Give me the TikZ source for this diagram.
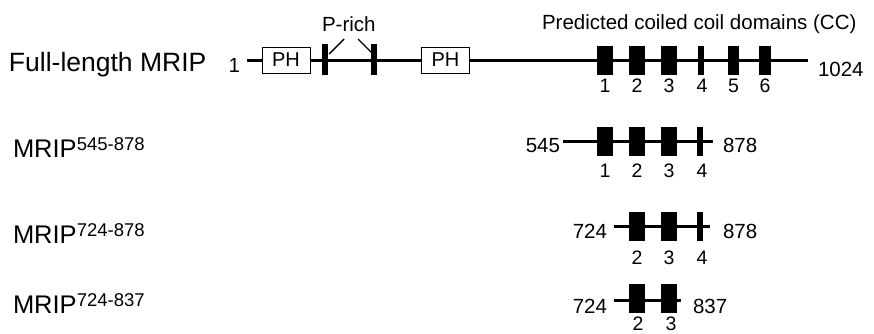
\documentclass[tikz,border=0pt]{standalone}
\usepackage{fontspec}
\setmainfont{Liberation Sans}
\newcommand{\mripsup}[1]{{\fontsize{25.5}{25.5}\selectfont MRIP}\raisebox{6.5pt}{\fontsize{18.5}{18.5}\selectfont #1}}
\begin{document}
\begin{tikzpicture}[x=1pt,y=-1pt,
  every node/.style={inner sep=0pt, outer sep=0pt},
  backbone/.style={line width=3pt},
  ccblock/.style={fill=black, minimum height=29pt},
  ccwide/.style={ccblock, minimum width=16.5pt},
  ccthin/.style={ccblock, minimum width=6pt},
  ccmid/.style={ccblock, minimum width=11.5pt},
  phbox/.style={draw=black, line width=0.8pt, fill=white, minimum width=48pt,
    minimum height=26pt, font=\fontsize{20}{20}\selectfont},
  small/.style={font=\fontsize{20.5}{20.5}\selectfont},
  ccnum/.style={font=\fontsize{19.5}{19.5}\selectfont, anchor=base},
  rowlabel/.style={anchor=base west},
  pointer/.style={line width=1.4pt},
]
\useasboundingbox (0,0) rectangle (874,333);

% ---- full-length protein ----
\node[rowlabel, font=\fontsize{26.5}{26.5}\selectfont] (full) at (9,71) {Full-length MRIP};
\node[small, anchor=base east] (f-start) at (240,72) {1};
\node[small, anchor=base west] (f-end) at (818,76) {1024};
\coordinate (f-a) at (247,60);
\coordinate (f-b) at (808,60);
\draw[backbone] (f-a) -- (f-b);
\node[phbox] (ph1) at (286,60) {PH};
\node[phbox] (ph2) at (445.5,60) {PH};
\node[ccthin, minimum height=31pt] (pr1) at (325,59) {};
\node[ccthin, minimum height=31pt] (pr2) at (373.5,59) {};
\node[small, anchor=base west] (prich) at (322,31) {P-rich};
\coordinate (pl-a) at (344,39);
\coordinate (pl-b) at (329,54);
\coordinate (pr-a) at (358,39);
\coordinate (pr-b) at (372,53);
\draw[pointer] (pl-a) -- (pl-b);
\draw[pointer] (pr-a) -- (pr-b);
\node[small, anchor=base west] (cctitle) at (542,29) {Predicted coiled coil domains (CC)};
\node[ccwide] (f1) at (605,60) {};
\node[ccwide] (f2) at (637,60) {};
\node[ccwide] (f3) at (669,60) {};
\node[ccthin] (f4) at (701,60) {};
\node[ccmid]  (f5) at (733.5,60) {};
\node[ccmid]  (f6) at (765,60) {};
\node[ccnum] (fn1) at (605,92) {1};
\node[ccnum] (fn2) at (637,92) {2};
\node[ccnum] (fn3) at (669,92) {3};
\node[ccnum] (fn4) at (702,92) {4};
\node[ccnum] (fn5) at (733.5,92) {5};
\node[ccnum] (fn6) at (765,92) {6};

% ---- fragment 545-878 ----
\node[rowlabel] (ra) at (13,157) {\mripsup{545-878}};
\node[small, anchor=base east] (a-start) at (560,152) {545};
\node[small, anchor=base west] (a-end) at (723,152) {878};
\coordinate (a-a) at (563,141);
\coordinate (a-b) at (713,141);
\draw[backbone] (a-a) -- (a-b);
\node[ccwide] (a1) at (605,141) {};
\node[ccwide] (a2) at (637,141) {};
\node[ccwide] (a3) at (669,141) {};
\node[ccthin] (a4) at (700,141) {};
\node[ccnum] (an1) at (605,177) {1};
\node[ccnum] (an2) at (637,177) {2};
\node[ccnum] (an3) at (669,177) {3};
\node[ccnum] (an4) at (702,177) {4};

% ---- fragment 724-878 ----
\node[rowlabel] (rb) at (13,243) {\mripsup{724-878}};
\node[small, anchor=base east] (b-start) at (607,238) {724};
\node[small, anchor=base west] (b-end) at (723,238) {878};
\coordinate (b-a) at (614,226);
\coordinate (b-b) at (710,226);
\draw[backbone] (b-a) -- (b-b);
\node[ccwide] (b2) at (637,226) {};
\node[ccwide] (b3) at (669,226) {};
\node[ccthin] (b4) at (700,226) {};
\node[ccnum] (bn2) at (637,264) {2};
\node[ccnum] (bn3) at (669,264) {3};
\node[ccnum] (bn4) at (702,264) {4};

% ---- fragment 724-837 ----
\node[rowlabel] (rc) at (13,313) {\mripsup{724-837}};
\node[small, anchor=base east] (c-start) at (607,313) {724};
\node[small, anchor=base west] (c-end) at (693,313) {837};
\coordinate (c-a) at (614,300);
\coordinate (c-b) at (681,300);
\draw[backbone] (c-a) -- (c-b);
\node[ccwide] (c2) at (637,298.5) {};
\node[ccwide] (c3) at (669,298.5) {};
\node[ccnum] (cn2) at (638,330) {2};
\node[ccnum] (cn3) at (671,330) {3};
\end{tikzpicture}
\end{document}
